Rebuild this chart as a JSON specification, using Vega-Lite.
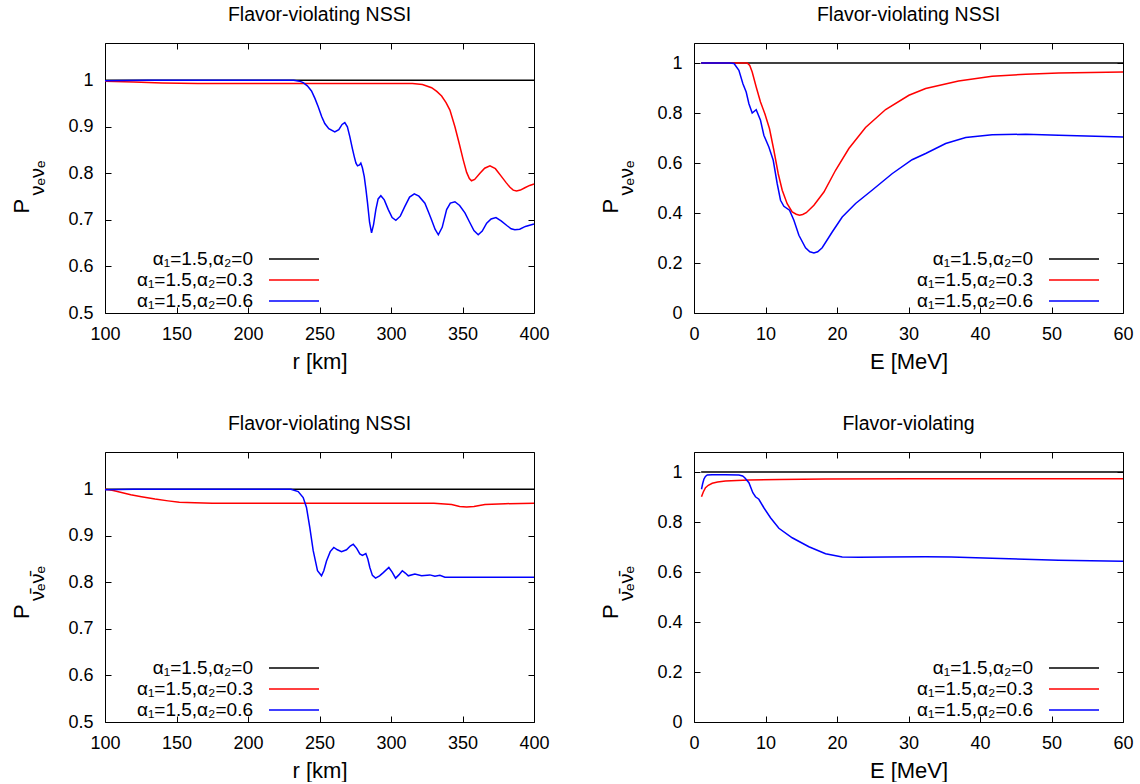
{
  "$schema": "https://vega.github.io/schema/vega-lite/v6.json",
  "background": "white",
  "padding": {"left": 9, "top": 4, "right": 5, "bottom": 0},
  "datasets": {
    "d1": [
      {"x": 100, "y": 1, "s": "α₁=1.5,α₂=0"}, {"x": 400, "y": 1, "s": "α₁=1.5,α₂=0"},
      {"x": 100, "y": 0.998, "s": "α₁=1.5,α₂=0.3"}, {"x": 120, "y": 0.996, "s": "α₁=1.5,α₂=0.3"}, {"x": 140, "y": 0.994, "s": "α₁=1.5,α₂=0.3"}, {"x": 165, "y": 0.993, "s": "α₁=1.5,α₂=0.3"}, {"x": 250, "y": 0.993, "s": "α₁=1.5,α₂=0.3"}, {"x": 315, "y": 0.993, "s": "α₁=1.5,α₂=0.3"}, {"x": 322, "y": 0.991, "s": "α₁=1.5,α₂=0.3"}, {"x": 328.4, "y": 0.984, "s": "α₁=1.5,α₂=0.3"}, {"x": 332, "y": 0.976, "s": "α₁=1.5,α₂=0.3"}, {"x": 335.4, "y": 0.966, "s": "α₁=1.5,α₂=0.3"}, {"x": 338.5, "y": 0.952, "s": "α₁=1.5,α₂=0.3"}, {"x": 341.2, "y": 0.936, "s": "α₁=1.5,α₂=0.3"}, {"x": 344.7, "y": 0.9, "s": "α₁=1.5,α₂=0.3"}, {"x": 347.7, "y": 0.864, "s": "α₁=1.5,α₂=0.3"}, {"x": 350.5, "y": 0.829, "s": "α₁=1.5,α₂=0.3"}, {"x": 352.9, "y": 0.802, "s": "α₁=1.5,α₂=0.3"}, {"x": 354.8, "y": 0.789, "s": "α₁=1.5,α₂=0.3"}, {"x": 356.3, "y": 0.784, "s": "α₁=1.5,α₂=0.3"}, {"x": 358.5, "y": 0.787, "s": "α₁=1.5,α₂=0.3"}, {"x": 362.2, "y": 0.8, "s": "α₁=1.5,α₂=0.3"}, {"x": 365.5, "y": 0.811, "s": "α₁=1.5,α₂=0.3"}, {"x": 369.2, "y": 0.816, "s": "α₁=1.5,α₂=0.3"}, {"x": 373, "y": 0.81, "s": "α₁=1.5,α₂=0.3"}, {"x": 377.3, "y": 0.793, "s": "α₁=1.5,α₂=0.3"}, {"x": 380.5, "y": 0.78, "s": "α₁=1.5,α₂=0.3"}, {"x": 383.2, "y": 0.77, "s": "α₁=1.5,α₂=0.3"}, {"x": 385.5, "y": 0.764, "s": "α₁=1.5,α₂=0.3"}, {"x": 387.8, "y": 0.762, "s": "α₁=1.5,α₂=0.3"}, {"x": 390.5, "y": 0.764, "s": "α₁=1.5,α₂=0.3"}, {"x": 393.6, "y": 0.769, "s": "α₁=1.5,α₂=0.3"}, {"x": 397, "y": 0.774, "s": "α₁=1.5,α₂=0.3"}, {"x": 400, "y": 0.777, "s": "α₁=1.5,α₂=0.3"},
      {"x": 100, "y": 0.999, "s": "α₁=1.5,α₂=0.6"}, {"x": 130, "y": 1.0, "s": "α₁=1.5,α₂=0.6"}, {"x": 200, "y": 1.0, "s": "α₁=1.5,α₂=0.6"}, {"x": 232, "y": 1.0, "s": "α₁=1.5,α₂=0.6"}, {"x": 236, "y": 0.998, "s": "α₁=1.5,α₂=0.6"}, {"x": 238.6, "y": 0.995, "s": "α₁=1.5,α₂=0.6"}, {"x": 241.5, "y": 0.988, "s": "α₁=1.5,α₂=0.6"}, {"x": 244.4, "y": 0.977, "s": "α₁=1.5,α₂=0.6"}, {"x": 246.8, "y": 0.961, "s": "α₁=1.5,α₂=0.6"}, {"x": 249.1, "y": 0.943, "s": "α₁=1.5,α₂=0.6"}, {"x": 251.5, "y": 0.922, "s": "α₁=1.5,α₂=0.6"}, {"x": 253.7, "y": 0.907, "s": "α₁=1.5,α₂=0.6"}, {"x": 256.5, "y": 0.896, "s": "α₁=1.5,α₂=0.6"}, {"x": 260.7, "y": 0.889, "s": "α₁=1.5,α₂=0.6"}, {"x": 263.5, "y": 0.894, "s": "α₁=1.5,α₂=0.6"}, {"x": 265.8, "y": 0.905, "s": "α₁=1.5,α₂=0.6"}, {"x": 267.7, "y": 0.909, "s": "α₁=1.5,α₂=0.6"}, {"x": 269.5, "y": 0.9, "s": "α₁=1.5,α₂=0.6"}, {"x": 271.2, "y": 0.879, "s": "α₁=1.5,α₂=0.6"}, {"x": 273, "y": 0.853, "s": "α₁=1.5,α₂=0.6"}, {"x": 274.3, "y": 0.836, "s": "α₁=1.5,α₂=0.6"}, {"x": 275.5, "y": 0.822, "s": "α₁=1.5,α₂=0.6"}, {"x": 276.6, "y": 0.816, "s": "α₁=1.5,α₂=0.6"}, {"x": 278, "y": 0.818, "s": "α₁=1.5,α₂=0.6"}, {"x": 278.9, "y": 0.822, "s": "α₁=1.5,α₂=0.6"}, {"x": 280, "y": 0.812, "s": "α₁=1.5,α₂=0.6"}, {"x": 281.3, "y": 0.793, "s": "α₁=1.5,α₂=0.6"}, {"x": 282.5, "y": 0.765, "s": "α₁=1.5,α₂=0.6"}, {"x": 283.6, "y": 0.736, "s": "α₁=1.5,α₂=0.6"}, {"x": 285, "y": 0.695, "s": "α₁=1.5,α₂=0.6"}, {"x": 286.4, "y": 0.672, "s": "α₁=1.5,α₂=0.6"}, {"x": 287.8, "y": 0.69, "s": "α₁=1.5,α₂=0.6"}, {"x": 289.4, "y": 0.722, "s": "α₁=1.5,α₂=0.6"}, {"x": 291, "y": 0.745, "s": "α₁=1.5,α₂=0.6"}, {"x": 292.9, "y": 0.752, "s": "α₁=1.5,α₂=0.6"}, {"x": 295.3, "y": 0.743, "s": "α₁=1.5,α₂=0.6"}, {"x": 298.1, "y": 0.722, "s": "α₁=1.5,α₂=0.6"}, {"x": 300.8, "y": 0.705, "s": "α₁=1.5,α₂=0.6"}, {"x": 303.4, "y": 0.699, "s": "α₁=1.5,α₂=0.6"}, {"x": 306.5, "y": 0.708, "s": "α₁=1.5,α₂=0.6"}, {"x": 309.7, "y": 0.729, "s": "α₁=1.5,α₂=0.6"}, {"x": 313, "y": 0.749, "s": "α₁=1.5,α₂=0.6"}, {"x": 316.3, "y": 0.756, "s": "α₁=1.5,α₂=0.6"}, {"x": 319.5, "y": 0.751, "s": "α₁=1.5,α₂=0.6"}, {"x": 323.7, "y": 0.736, "s": "α₁=1.5,α₂=0.6"}, {"x": 326.2, "y": 0.717, "s": "α₁=1.5,α₂=0.6"}, {"x": 328.4, "y": 0.7, "s": "α₁=1.5,α₂=0.6"}, {"x": 330.8, "y": 0.68, "s": "α₁=1.5,α₂=0.6"}, {"x": 333.1, "y": 0.668, "s": "α₁=1.5,α₂=0.6"}, {"x": 335.8, "y": 0.684, "s": "α₁=1.5,α₂=0.6"}, {"x": 338.9, "y": 0.722, "s": "α₁=1.5,α₂=0.6"}, {"x": 341.5, "y": 0.736, "s": "α₁=1.5,α₂=0.6"}, {"x": 344.7, "y": 0.739, "s": "α₁=1.5,α₂=0.6"}, {"x": 348, "y": 0.731, "s": "α₁=1.5,α₂=0.6"}, {"x": 351.7, "y": 0.715, "s": "α₁=1.5,α₂=0.6"}, {"x": 355, "y": 0.695, "s": "α₁=1.5,α₂=0.6"}, {"x": 358, "y": 0.677, "s": "α₁=1.5,α₂=0.6"}, {"x": 361, "y": 0.668, "s": "α₁=1.5,α₂=0.6"}, {"x": 363.8, "y": 0.676, "s": "α₁=1.5,α₂=0.6"}, {"x": 366.9, "y": 0.693, "s": "α₁=1.5,α₂=0.6"}, {"x": 370, "y": 0.702, "s": "α₁=1.5,α₂=0.6"}, {"x": 373.4, "y": 0.705, "s": "α₁=1.5,α₂=0.6"}, {"x": 377, "y": 0.698, "s": "α₁=1.5,α₂=0.6"}, {"x": 381, "y": 0.688, "s": "α₁=1.5,α₂=0.6"}, {"x": 384, "y": 0.681, "s": "α₁=1.5,α₂=0.6"}, {"x": 386.6, "y": 0.679, "s": "α₁=1.5,α₂=0.6"}, {"x": 390, "y": 0.68, "s": "α₁=1.5,α₂=0.6"}, {"x": 394, "y": 0.686, "s": "α₁=1.5,α₂=0.6"}, {"x": 400, "y": 0.691, "s": "α₁=1.5,α₂=0.6"}
    ],
    "d2": [
      {"x": 1, "y": 1, "s": "α₁=1.5,α₂=0"}, {"x": 60, "y": 1, "s": "α₁=1.5,α₂=0"},
      {"x": 1, "y": 1.0, "s": "α₁=1.5,α₂=0.3"}, {"x": 5, "y": 1.0, "s": "α₁=1.5,α₂=0.3"}, {"x": 7.44, "y": 1.0, "s": "α₁=1.5,α₂=0.3"}, {"x": 7.8, "y": 0.99, "s": "α₁=1.5,α₂=0.3"}, {"x": 8.14, "y": 0.964, "s": "α₁=1.5,α₂=0.3"}, {"x": 8.7, "y": 0.904, "s": "α₁=1.5,α₂=0.3"}, {"x": 9.3, "y": 0.844, "s": "α₁=1.5,α₂=0.3"}, {"x": 9.91, "y": 0.797, "s": "α₁=1.5,α₂=0.3"}, {"x": 10.56, "y": 0.737, "s": "α₁=1.5,α₂=0.3"}, {"x": 11.17, "y": 0.651, "s": "α₁=1.5,α₂=0.3"}, {"x": 11.78, "y": 0.557, "s": "α₁=1.5,α₂=0.3"}, {"x": 12.34, "y": 0.491, "s": "α₁=1.5,α₂=0.3"}, {"x": 13.03, "y": 0.437, "s": "α₁=1.5,α₂=0.3"}, {"x": 13.73, "y": 0.404, "s": "α₁=1.5,α₂=0.3"}, {"x": 14.3, "y": 0.395, "s": "α₁=1.5,α₂=0.3"}, {"x": 14.76, "y": 0.391, "s": "α₁=1.5,α₂=0.3"}, {"x": 15.2, "y": 0.394, "s": "α₁=1.5,α₂=0.3"}, {"x": 15.7, "y": 0.401, "s": "α₁=1.5,α₂=0.3"}, {"x": 16.77, "y": 0.431, "s": "α₁=1.5,α₂=0.3"}, {"x": 18.17, "y": 0.484, "s": "α₁=1.5,α₂=0.3"}, {"x": 19.8, "y": 0.571, "s": "α₁=1.5,α₂=0.3"}, {"x": 21.66, "y": 0.658, "s": "α₁=1.5,α₂=0.3"}, {"x": 23.99, "y": 0.742, "s": "α₁=1.5,α₂=0.3"}, {"x": 26.8, "y": 0.814, "s": "α₁=1.5,α₂=0.3"}, {"x": 30.06, "y": 0.871, "s": "α₁=1.5,α₂=0.3"}, {"x": 32.4, "y": 0.898, "s": "α₁=1.5,α₂=0.3"}, {"x": 37, "y": 0.928, "s": "α₁=1.5,α₂=0.3"}, {"x": 41.7, "y": 0.947, "s": "α₁=1.5,α₂=0.3"}, {"x": 46.4, "y": 0.955, "s": "α₁=1.5,α₂=0.3"}, {"x": 51, "y": 0.96, "s": "α₁=1.5,α₂=0.3"}, {"x": 60, "y": 0.964, "s": "α₁=1.5,α₂=0.3"},
      {"x": 1, "y": 1.0, "s": "α₁=1.5,α₂=0.6"}, {"x": 5, "y": 1.0, "s": "α₁=1.5,α₂=0.6"}, {"x": 5.6, "y": 0.998, "s": "α₁=1.5,α₂=0.6"}, {"x": 6.28, "y": 0.971, "s": "α₁=1.5,α₂=0.6"}, {"x": 6.84, "y": 0.917, "s": "α₁=1.5,α₂=0.6"}, {"x": 7.3, "y": 0.884, "s": "α₁=1.5,α₂=0.6"}, {"x": 7.68, "y": 0.837, "s": "α₁=1.5,α₂=0.6"}, {"x": 8.14, "y": 0.8, "s": "α₁=1.5,α₂=0.6"}, {"x": 8.7, "y": 0.813, "s": "α₁=1.5,α₂=0.6"}, {"x": 9.3, "y": 0.771, "s": "α₁=1.5,α₂=0.6"}, {"x": 9.77, "y": 0.711, "s": "α₁=1.5,α₂=0.6"}, {"x": 10.47, "y": 0.664, "s": "α₁=1.5,α₂=0.6"}, {"x": 11.08, "y": 0.611, "s": "α₁=1.5,α₂=0.6"}, {"x": 11.64, "y": 0.517, "s": "α₁=1.5,α₂=0.6"}, {"x": 12.1, "y": 0.451, "s": "α₁=1.5,α₂=0.6"}, {"x": 12.57, "y": 0.427, "s": "α₁=1.5,α₂=0.6"}, {"x": 13.36, "y": 0.411, "s": "α₁=1.5,α₂=0.6"}, {"x": 13.97, "y": 0.371, "s": "α₁=1.5,α₂=0.6"}, {"x": 14.67, "y": 0.311, "s": "α₁=1.5,α₂=0.6"}, {"x": 15.6, "y": 0.261, "s": "α₁=1.5,α₂=0.6"}, {"x": 16.2, "y": 0.245, "s": "α₁=1.5,α₂=0.6"}, {"x": 16.77, "y": 0.24, "s": "α₁=1.5,α₂=0.6"}, {"x": 17.3, "y": 0.245, "s": "α₁=1.5,α₂=0.6"}, {"x": 17.93, "y": 0.261, "s": "α₁=1.5,α₂=0.6"}, {"x": 19.33, "y": 0.324, "s": "α₁=1.5,α₂=0.6"}, {"x": 20.73, "y": 0.384, "s": "α₁=1.5,α₂=0.6"}, {"x": 22.6, "y": 0.438, "s": "α₁=1.5,α₂=0.6"}, {"x": 24.9, "y": 0.491, "s": "α₁=1.5,α₂=0.6"}, {"x": 27.7, "y": 0.557, "s": "α₁=1.5,α₂=0.6"}, {"x": 30.5, "y": 0.613, "s": "α₁=1.5,α₂=0.6"}, {"x": 32.4, "y": 0.638, "s": "α₁=1.5,α₂=0.6"}, {"x": 35.2, "y": 0.678, "s": "α₁=1.5,α₂=0.6"}, {"x": 38, "y": 0.702, "s": "α₁=1.5,α₂=0.6"}, {"x": 41.7, "y": 0.713, "s": "α₁=1.5,α₂=0.6"}, {"x": 46.4, "y": 0.715, "s": "α₁=1.5,α₂=0.6"}, {"x": 51, "y": 0.711, "s": "α₁=1.5,α₂=0.6"}, {"x": 60, "y": 0.704, "s": "α₁=1.5,α₂=0.6"}
    ],
    "d3": [
      {"x": 100, "y": 1, "s": "α₁=1.5,α₂=0"}, {"x": 400, "y": 1, "s": "α₁=1.5,α₂=0"},
      {"x": 100, "y": 1.0, "s": "α₁=1.5,α₂=0.3"}, {"x": 105, "y": 0.998, "s": "α₁=1.5,α₂=0.3"}, {"x": 111.5, "y": 0.993, "s": "α₁=1.5,α₂=0.3"}, {"x": 118, "y": 0.988, "s": "α₁=1.5,α₂=0.3"}, {"x": 125.5, "y": 0.984, "s": "α₁=1.5,α₂=0.3"}, {"x": 135, "y": 0.979, "s": "α₁=1.5,α₂=0.3"}, {"x": 144.1, "y": 0.975, "s": "α₁=1.5,α₂=0.3"}, {"x": 152, "y": 0.972, "s": "α₁=1.5,α₂=0.3"}, {"x": 162.8, "y": 0.971, "s": "α₁=1.5,α₂=0.3"}, {"x": 175, "y": 0.97, "s": "α₁=1.5,α₂=0.3"}, {"x": 330, "y": 0.97, "s": "α₁=1.5,α₂=0.3"}, {"x": 342.4, "y": 0.967, "s": "α₁=1.5,α₂=0.3"}, {"x": 348, "y": 0.963, "s": "α₁=1.5,α₂=0.3"}, {"x": 352.9, "y": 0.962, "s": "α₁=1.5,α₂=0.3"}, {"x": 358, "y": 0.963, "s": "α₁=1.5,α₂=0.3"}, {"x": 365.7, "y": 0.967, "s": "α₁=1.5,α₂=0.3"}, {"x": 380, "y": 0.969, "s": "α₁=1.5,α₂=0.3"}, {"x": 400, "y": 0.97, "s": "α₁=1.5,α₂=0.3"},
      {"x": 100, "y": 0.999, "s": "α₁=1.5,α₂=0.6"}, {"x": 120, "y": 1.0, "s": "α₁=1.5,α₂=0.6"}, {"x": 200, "y": 1.0, "s": "α₁=1.5,α₂=0.6"}, {"x": 230, "y": 1.0, "s": "α₁=1.5,α₂=0.6"}, {"x": 235.1, "y": 0.995, "s": "α₁=1.5,α₂=0.6"}, {"x": 238.6, "y": 0.982, "s": "α₁=1.5,α₂=0.6"}, {"x": 240.9, "y": 0.961, "s": "α₁=1.5,α₂=0.6"}, {"x": 243.2, "y": 0.918, "s": "α₁=1.5,α₂=0.6"}, {"x": 245.6, "y": 0.868, "s": "α₁=1.5,α₂=0.6"}, {"x": 248.6, "y": 0.825, "s": "α₁=1.5,α₂=0.6"}, {"x": 251.4, "y": 0.814, "s": "α₁=1.5,α₂=0.6"}, {"x": 253, "y": 0.825, "s": "α₁=1.5,α₂=0.6"}, {"x": 254.9, "y": 0.846, "s": "α₁=1.5,α₂=0.6"}, {"x": 257.5, "y": 0.866, "s": "α₁=1.5,α₂=0.6"}, {"x": 260, "y": 0.875, "s": "α₁=1.5,α₂=0.6"}, {"x": 262.5, "y": 0.87, "s": "α₁=1.5,α₂=0.6"}, {"x": 265.4, "y": 0.866, "s": "α₁=1.5,α₂=0.6"}, {"x": 268.9, "y": 0.87, "s": "α₁=1.5,α₂=0.6"}, {"x": 271.5, "y": 0.878, "s": "α₁=1.5,α₂=0.6"}, {"x": 273.6, "y": 0.882, "s": "α₁=1.5,α₂=0.6"}, {"x": 276, "y": 0.873, "s": "α₁=1.5,α₂=0.6"}, {"x": 278.2, "y": 0.861, "s": "α₁=1.5,α₂=0.6"}, {"x": 280, "y": 0.858, "s": "α₁=1.5,α₂=0.6"}, {"x": 282.4, "y": 0.862, "s": "α₁=1.5,α₂=0.6"}, {"x": 283.8, "y": 0.85, "s": "α₁=1.5,α₂=0.6"}, {"x": 285.2, "y": 0.832, "s": "α₁=1.5,α₂=0.6"}, {"x": 287, "y": 0.815, "s": "α₁=1.5,α₂=0.6"}, {"x": 289.2, "y": 0.809, "s": "α₁=1.5,α₂=0.6"}, {"x": 292, "y": 0.814, "s": "α₁=1.5,α₂=0.6"}, {"x": 294.6, "y": 0.821, "s": "α₁=1.5,α₂=0.6"}, {"x": 298.5, "y": 0.832, "s": "α₁=1.5,α₂=0.6"}, {"x": 300.8, "y": 0.822, "s": "α₁=1.5,α₂=0.6"}, {"x": 303.2, "y": 0.809, "s": "α₁=1.5,α₂=0.6"}, {"x": 305.5, "y": 0.816, "s": "α₁=1.5,α₂=0.6"}, {"x": 307.9, "y": 0.825, "s": "α₁=1.5,α₂=0.6"}, {"x": 310, "y": 0.82, "s": "α₁=1.5,α₂=0.6"}, {"x": 312.1, "y": 0.814, "s": "α₁=1.5,α₂=0.6"}, {"x": 316.7, "y": 0.818, "s": "α₁=1.5,α₂=0.6"}, {"x": 321.4, "y": 0.814, "s": "α₁=1.5,α₂=0.6"}, {"x": 327.2, "y": 0.816, "s": "α₁=1.5,α₂=0.6"}, {"x": 330.7, "y": 0.813, "s": "α₁=1.5,α₂=0.6"}, {"x": 334.2, "y": 0.815, "s": "α₁=1.5,α₂=0.6"}, {"x": 337.7, "y": 0.811, "s": "α₁=1.5,α₂=0.6"}, {"x": 350, "y": 0.811, "s": "α₁=1.5,α₂=0.6"}, {"x": 400, "y": 0.811, "s": "α₁=1.5,α₂=0.6"}
    ],
    "d4": [
      {"x": 1, "y": 1, "s": "α₁=1.5,α₂=0"}, {"x": 60, "y": 1, "s": "α₁=1.5,α₂=0"},
      {"x": 1.05, "y": 0.901, "s": "α₁=1.5,α₂=0.3"}, {"x": 1.3, "y": 0.92, "s": "α₁=1.5,α₂=0.3"}, {"x": 1.61, "y": 0.937, "s": "α₁=1.5,α₂=0.3"}, {"x": 2, "y": 0.947, "s": "α₁=1.5,α₂=0.3"}, {"x": 2.55, "y": 0.955, "s": "α₁=1.5,α₂=0.3"}, {"x": 3.3, "y": 0.96, "s": "α₁=1.5,α₂=0.3"}, {"x": 4.4, "y": 0.964, "s": "α₁=1.5,α₂=0.3"}, {"x": 6, "y": 0.966, "s": "α₁=1.5,α₂=0.3"}, {"x": 7.68, "y": 0.968, "s": "α₁=1.5,α₂=0.3"}, {"x": 12, "y": 0.97, "s": "α₁=1.5,α₂=0.3"}, {"x": 18.4, "y": 0.972, "s": "α₁=1.5,α₂=0.3"}, {"x": 30, "y": 0.973, "s": "α₁=1.5,α₂=0.3"}, {"x": 60, "y": 0.973, "s": "α₁=1.5,α₂=0.3"},
      {"x": 1.05, "y": 0.931, "s": "α₁=1.5,α₂=0.6"}, {"x": 1.2, "y": 0.952, "s": "α₁=1.5,α₂=0.6"}, {"x": 1.38, "y": 0.971, "s": "α₁=1.5,α₂=0.6"}, {"x": 1.6, "y": 0.982, "s": "α₁=1.5,α₂=0.6"}, {"x": 1.85, "y": 0.988, "s": "α₁=1.5,α₂=0.6"}, {"x": 2.55, "y": 0.989, "s": "α₁=1.5,α₂=0.6"}, {"x": 4.4, "y": 0.989, "s": "α₁=1.5,α₂=0.6"}, {"x": 6.28, "y": 0.988, "s": "α₁=1.5,α₂=0.6"}, {"x": 6.8, "y": 0.984, "s": "α₁=1.5,α₂=0.6"}, {"x": 7.1, "y": 0.977, "s": "α₁=1.5,α₂=0.6"}, {"x": 7.68, "y": 0.957, "s": "α₁=1.5,α₂=0.6"}, {"x": 8.23, "y": 0.917, "s": "α₁=1.5,α₂=0.6"}, {"x": 8.6, "y": 0.901, "s": "α₁=1.5,α₂=0.6"}, {"x": 9.07, "y": 0.891, "s": "α₁=1.5,α₂=0.6"}, {"x": 9.77, "y": 0.857, "s": "α₁=1.5,α₂=0.6"}, {"x": 10.7, "y": 0.817, "s": "α₁=1.5,α₂=0.6"}, {"x": 11.87, "y": 0.775, "s": "α₁=1.5,α₂=0.6"}, {"x": 13.73, "y": 0.737, "s": "α₁=1.5,α₂=0.6"}, {"x": 16.07, "y": 0.701, "s": "α₁=1.5,α₂=0.6"}, {"x": 18.4, "y": 0.673, "s": "α₁=1.5,α₂=0.6"}, {"x": 20.73, "y": 0.66, "s": "α₁=1.5,α₂=0.6"}, {"x": 23.06, "y": 0.659, "s": "α₁=1.5,α₂=0.6"}, {"x": 27, "y": 0.66, "s": "α₁=1.5,α₂=0.6"}, {"x": 32.4, "y": 0.661, "s": "α₁=1.5,α₂=0.6"}, {"x": 36, "y": 0.66, "s": "α₁=1.5,α₂=0.6"}, {"x": 41.7, "y": 0.655, "s": "α₁=1.5,α₂=0.6"}, {"x": 51, "y": 0.647, "s": "α₁=1.5,α₂=0.6"}, {"x": 60, "y": 0.643, "s": "α₁=1.5,α₂=0.6"}
    ]
  },
  "columns": 2,
  "spacing": {"row": 139, "column": 160},
  "bounds": "flush",
  "concat": [
    {
      "width": 429, "height": 270,
      "title": {"text": "Flavor-violating NSSI"},
      "data": {"name": "d1"},
      "layer": [
        {
          "mark": {"type": "line", "strokeWidth": 1.5},
          "encoding": {
            "x": {"field": "x", "type": "quantitative", "scale": {"domain": [100, 400], "nice": false}, "axis": {"orient": "bottom", "values": [100, 150, 200, 250, 300, 350, 400], "title": "r [km]"}},
            "y": {"field": "y", "type": "quantitative", "scale": {"domain": [0.5, 1.08], "nice": false, "zero": false}, "axis": {"orient": "left", "values": [0.5, 0.6, 0.7, 0.8, 0.9, 1], "format": "~g", "title": "P", "titleX": -77, "titleY": 170}},
            "color": {"field": "s", "type": "nominal", "scale": {"domain": ["α₁=1.5,α₂=0", "α₁=1.5,α₂=0.3", "α₁=1.5,α₂=0.6"], "range": ["#000000", "#ff0000", "#0000ff"]}, "legend": {"legendX": 153, "legendY": 205}}
          }
        },
        {
          "mark": {"type": "line", "strokeOpacity": 0},
          "encoding": {
            "x": {"field": "x", "type": "quantitative", "scale": {"domain": [100, 400], "nice": false}, "axis": {"orient": "top", "values": [100, 150, 200, 250, 300, 350, 400], "labels": false, "title": null}},
            "y": {"field": "y", "type": "quantitative", "scale": {"domain": [0.5, 1.08], "nice": false, "zero": false}, "axis": {"orient": "right", "values": [0.5, 0.6, 0.7, 0.8, 0.9, 1], "labels": false, "title": "νₑνₑ", "titleFontSize": 20, "titleX": -491, "titleY": 152}}
          }
        }
      ],
      "resolve": {"axis": {"x": "independent", "y": "independent"}}
    },
    {
      "width": 429, "height": 270,
      "title": {"text": "Flavor-violating NSSI"},
      "data": {"name": "d2"},
      "layer": [
        {
          "mark": {"type": "line", "strokeWidth": 1.5},
          "encoding": {
            "x": {"field": "x", "type": "quantitative", "scale": {"domain": [0, 60], "nice": false}, "axis": {"orient": "bottom", "values": [0, 10, 20, 30, 40, 50, 60], "title": "E [MeV]"}},
            "y": {"field": "y", "type": "quantitative", "scale": {"domain": [0, 1.08], "nice": false}, "axis": {"orient": "left", "values": [0, 0.2, 0.4, 0.6, 0.8, 1], "format": "~g", "title": "P", "titleX": -77, "titleY": 170}},
            "color": {"field": "s", "type": "nominal", "scale": {"domain": ["α₁=1.5,α₂=0", "α₁=1.5,α₂=0.3", "α₁=1.5,α₂=0.6"], "range": ["#000000", "#ff0000", "#0000ff"]}, "legend": {"legendX": 344, "legendY": 205}}
          }
        },
        {
          "mark": {"type": "line", "strokeOpacity": 0},
          "encoding": {
            "x": {"field": "x", "type": "quantitative", "scale": {"domain": [0, 60], "nice": false}, "axis": {"orient": "top", "values": [0, 10, 20, 30, 40, 50, 60], "labels": false, "title": null}},
            "y": {"field": "y", "type": "quantitative", "scale": {"domain": [0, 1.08], "nice": false}, "axis": {"orient": "right", "values": [0, 0.2, 0.4, 0.6, 0.8, 1], "labels": false, "title": "νₑνₑ", "titleFontSize": 20, "titleX": -491, "titleY": 152}}
          }
        }
      ],
      "resolve": {"axis": {"x": "independent", "y": "independent"}}
    },
    {
      "width": 429, "height": 270,
      "title": {"text": "Flavor-violating NSSI"},
      "data": {"name": "d3"},
      "layer": [
        {
          "mark": {"type": "line", "strokeWidth": 1.5},
          "encoding": {
            "x": {"field": "x", "type": "quantitative", "scale": {"domain": [100, 400], "nice": false}, "axis": {"orient": "bottom", "values": [100, 150, 200, 250, 300, 350, 400], "title": "r [km]"}},
            "y": {"field": "y", "type": "quantitative", "scale": {"domain": [0.5, 1.08], "nice": false, "zero": false}, "axis": {"orient": "left", "values": [0.5, 0.6, 0.7, 0.8, 0.9, 1], "format": "~g", "title": "P", "titleX": -77, "titleY": 166.5}},
            "color": {"field": "s", "type": "nominal", "scale": {"domain": ["α₁=1.5,α₂=0", "α₁=1.5,α₂=0.3", "α₁=1.5,α₂=0.6"], "range": ["#000000", "#ff0000", "#0000ff"]}, "legend": {"legendX": 153, "legendY": 205}}
          }
        },
        {
          "mark": {"type": "line", "strokeOpacity": 0},
          "encoding": {
            "x": {"field": "x", "type": "quantitative", "scale": {"domain": [100, 400], "nice": false}, "axis": {"orient": "top", "values": [100, 150, 200, 250, 300, 350, 400], "labels": false, "title": null}},
            "y": {"field": "y", "type": "quantitative", "scale": {"domain": [0.5, 1.08], "nice": false, "zero": false}, "axis": {"orient": "right", "values": [0.5, 0.6, 0.7, 0.8, 0.9, 1], "labels": false, "title": "ν̄ₑν̄ₑ", "titleFontSize": 20, "titleX": -491, "titleY": 148.5}}
          }
        }
      ],
      "resolve": {"axis": {"x": "independent", "y": "independent"}}
    },
    {
      "width": 429, "height": 270,
      "title": {"text": "Flavor-violating"},
      "data": {"name": "d4"},
      "layer": [
        {
          "mark": {"type": "line", "strokeWidth": 1.5},
          "encoding": {
            "x": {"field": "x", "type": "quantitative", "scale": {"domain": [0, 60], "nice": false}, "axis": {"orient": "bottom", "values": [0, 10, 20, 30, 40, 50, 60], "title": "E [MeV]"}},
            "y": {"field": "y", "type": "quantitative", "scale": {"domain": [0, 1.08], "nice": false}, "axis": {"orient": "left", "values": [0, 0.2, 0.4, 0.6, 0.8, 1], "format": "~g", "title": "P", "titleX": -77, "titleY": 166.5}},
            "color": {"field": "s", "type": "nominal", "scale": {"domain": ["α₁=1.5,α₂=0", "α₁=1.5,α₂=0.3", "α₁=1.5,α₂=0.6"], "range": ["#000000", "#ff0000", "#0000ff"]}, "legend": {"legendX": 344, "legendY": 205}}
          }
        },
        {
          "mark": {"type": "line", "strokeOpacity": 0},
          "encoding": {
            "x": {"field": "x", "type": "quantitative", "scale": {"domain": [0, 60], "nice": false}, "axis": {"orient": "top", "values": [0, 10, 20, 30, 40, 50, 60], "labels": false, "title": null}},
            "y": {"field": "y", "type": "quantitative", "scale": {"domain": [0, 1.08], "nice": false}, "axis": {"orient": "right", "values": [0, 0.2, 0.4, 0.6, 0.8, 1], "labels": false, "title": "ν̄ₑν̄ₑ", "titleFontSize": 20, "titleX": -491, "titleY": 148.5}}
          }
        }
      ],
      "resolve": {"axis": {"x": "independent", "y": "independent"}}
    }
  ],
  "resolve": {"scale": {"color": "independent"}},
  "config": {
    "font": "Liberation Sans",
    "view": {"stroke": "#000000", "strokeWidth": 1},
    "axis": {
      "grid": false, "domain": false, "tickColor": "#000000", "tickSize": -6, "tickWidth": 1,
      "labelFontSize": 18, "labelColor": "#000000", "labelPadding": 18, "labelFlush": false,
      "titleFontSize": 22, "titleFontWeight": "normal", "titleColor": "#000000"
    },
    "axisX": {"titleY": 55, "titleBaseline": "alphabetic"},
    "axisY": {"titleAngle": 270, "titleAlign": "left", "titleBaseline": "alphabetic"},
    "title": {"fontSize": 19.5, "fontWeight": "normal", "color": "#000000", "frame": "group", "baseline": "alphabetic", "offset": 17},
    "legend": {
      "orient": "none", "title": null, "symbolType": "M0,0H5", "symbolSize": 400, "symbolStrokeWidth": 1.5,
      "labelFontSize": 19, "labelColor": "#000000", "labelAlign": "right", "labelOffset": -27, "labelLimit": 0, "rowPadding": -1
    }
  }
}
